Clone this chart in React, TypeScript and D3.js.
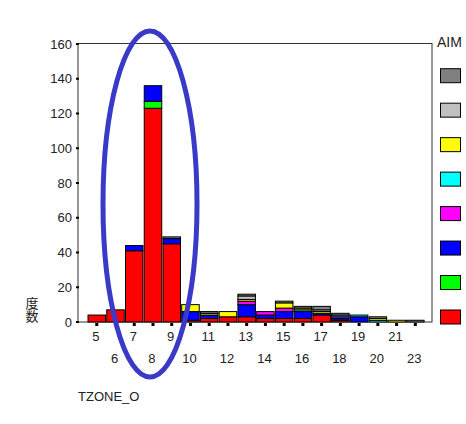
import React from "react";
import * as d3 from "d3";

const categories = ["5","6","7","8","9","10","11","12","13","14","15","16","17","18","19","20","21","23"];
const seriesKeys = ["red","green","blue","magenta","cyan","yellow","lightgray","darkgray"];
const seriesColors = ["#ff0000","#00ff00","#0000ff","#ff00ff","#00ffff","#ffff00","#c0c0c0","#808080"];
const redVals =       [4,7,41,123,45,1,2,3,3,2,2,2,4,1,0,0,0,0];
const greenVals =     [0,0,0,4,0,0,0,0,0,0,0,0,0,0,0,0,0,0];
const blueVals =      [0,0,3,9,3,5,2,0,7,2,4,4,1,1,3,0,0,0];
const magentaVals =   [0,0,0,0,0,0,0,0,2,2,2,0,0,1,0,0,0,0];
const cyanVals =      [0,0,0,0,0,0,0,0,0,0,0,1,0,1,1,1,0,0];
const yellowVals =    [0,0,0,0,0,4,1,3,1,0,3,1,1,0,0,1,1,0];
const lightgrayVals = [0,0,0,0,0,0,0,0,2,0,0,0,1,0,0,0,0,0];
const darkgrayVals =  [0,0,0,0,1,0,1,0,1,0,1,1,2,1,0,1,0,1];
const yTicks = [0,20,40,60,80,100,120,140,160];
const legendTitle = "AIM";
const xTitle = "TZONE_O";
const yTitle = "度数";

const allVals = [redVals,greenVals,blueVals,magentaVals,cyanVals,yellowVals,lightgrayVals,darkgrayVals];

export default function App() {
  const font = "'Liberation Sans', Arial, sans-serif";
  const rows = categories.map((c, i) => {
    const r: any = { cat: c };
    seriesKeys.forEach((k, j) => (r[k] = allVals[j][i]));
    return r;
  });
  const stacked = d3.stack().keys(seriesKeys)(rows);
  const y = d3.scaleLinear().domain([0, 160]).range([322, 44]);
  const x = d3.scaleBand().domain(categories).range([87.4, 424.7]).paddingInner(0.066).paddingOuter(0.033);
  const bw = x.bandwidth();
  const legendY = d3.scaleLinear().domain([0, 7]).range([75.7, 317]);
  const legendOrder = [...seriesKeys.keys()].reverse();

  return (
    <svg width={466} height={424} style={{ position: "absolute", left: 0, top: 0, background: "#fff" }}>
      <rect x={0} y={0} width={466} height={424} fill="#fff" />
      {/* frame */}
      <rect x={78} y={43.5} width={354} height={278.5} fill="none" stroke="#333" strokeWidth={1} />
      {/* bars */}
      {stacked.map((layer, j) =>
        layer.map((d, i) => {
          const v = d[1] - d[0];
          if (v <= 0) return null;
          return (
            <rect key={`${j}-${i}`} x={x(categories[i])!} y={y(d[1])} width={bw} height={y(d[0]) - y(d[1])}
              fill={seriesColors[j]} stroke="#000" strokeWidth={1} />
          );
        })
      )}
      {/* y ticks */}
      {yTicks.map((t) => (
        <g key={t}>
          <rect x={76} y={y(t) - 1} width={3} height={2} fill="#000" />
          <text x={72} y={y(t) + 4.5} textAnchor="end" fontSize={13} fontFamily={font} fill="#222">{t}</text>
        </g>
      ))}
      {/* x ticks */}
      {categories.map((c, i) => {
        const cx = x(c)! + bw / 2;
        return (
          <g key={c}>
            <rect x={cx - 1.5} y={323} width={3} height={3} fill="#000" />
            <text x={cx - 1} y={i % 2 === 0 ? 341 : 362.5} textAnchor="middle" fontSize={13} fontFamily={font} fill="#222">{c}</text>
          </g>
        );
      })}
      <text x={78} y={401} fontSize={13} fontFamily={font} fill="#222">{xTitle}</text>
      <text x={32} y={297} fontSize={13} fontFamily="'Noto Sans CJK JP', sans-serif" fill="#222"
        style={{ writingMode: "vertical-rl", textOrientation: "upright" } as any}>{yTitle}</text>
      {/* legend */}
      <text x={437} y={47} fontSize={14} fontFamily={font} fill="#222">{legendTitle}</text>
      {legendOrder.map((j, k) => (
        <rect key={j} x={440.5} y={legendY(k) - 7} width={20} height={14} fill={seriesColors[j]} stroke="#000" strokeWidth={1} />
      ))}
      {/* annotation ellipse */}
      <ellipse cx={150} cy={204} rx={47} ry={173} fill="none" stroke="#3a3ac8" strokeWidth={5} />
    </svg>
  );
}
